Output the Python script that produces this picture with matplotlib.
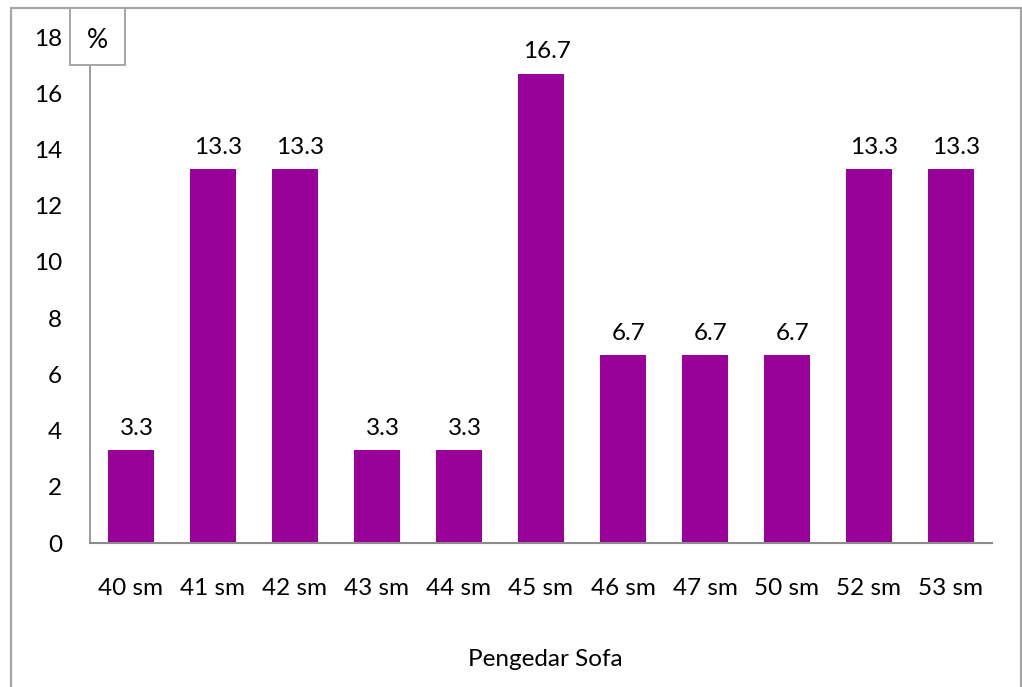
import matplotlib.pyplot as plt
from matplotlib.patches import Rectangle

plt.rcParams["font.family"] = ["Lato", "DejaVu Sans"]

categories = ["40 sm", "41 sm", "42 sm", "43 sm", "44 sm", "45 sm",
              "46 sm", "47 sm", "50 sm", "52 sm", "53 sm"]
percent = [3.3, 13.3, 13.3, 3.3, 3.3, 16.7, 6.7, 6.7, 6.7, 13.3, 13.3]
y_ticks = [0, 2, 4, 6, 8, 10, 12, 14, 16, 18]

W, H = 1022, 687
BAR_COLOR = "#990099"
GRAY = "#a6a6a6"
FS = 17.5

fig = plt.figure(figsize=(W / 100, H / 100), dpi=100)
ax = fig.add_axes([90 / W, 1 - 543 / H, 902 / W, 506 / H])

x = range(len(categories))
ax.bar(x, percent, width=0.56, color=BAR_COLOR)
for xi, v in zip(x, percent):
    ax.annotate(f"{v}", (xi, v), xytext=(4, 8), textcoords="offset points",
                ha="center", va="bottom", fontsize=FS)

ax.set_xlim(-0.5, len(categories) - 0.5)
ax.set_ylim(0, 18)
ax.set_yticks(y_ticks)
ax.set_xticks(list(x))
ax.set_xticklabels(categories)
ax.tick_params(axis="y", length=0, pad=20, labelsize=FS)
ax.tick_params(axis="x", length=0, pad=25, labelsize=FS)

for side in ["top", "right"]:
    ax.spines[side].set_visible(False)
ax.spines["left"].set_color("#8c8c8c")
ax.spines["left"].set_linewidth(1.2)
ax.spines["bottom"].set_color("#8c8c8c")
ax.spines["bottom"].set_linewidth(1.5)

fig.text(545 / W, 1 - 660 / H, "Pengedar Sofa", ha="center", va="center", fontsize=FS)

# outer frame
fig.patches.append(Rectangle((11 / W, -0.05), 1010 / W, 1.05 - 8 / H,
                             transform=fig.transFigure, fill=False,
                             edgecolor=GRAY, linewidth=1.6, zorder=5))
# "%" box
fig.patches.append(Rectangle((70 / W, 1 - 65 / H), 55 / W, 57 / H,
                             transform=fig.transFigure, facecolor="white",
                             edgecolor=GRAY, linewidth=1.4, zorder=6))
fig.text(97 / W, 1 - 40 / H, "%", ha="center", va="center", fontsize=19, zorder=7)

fig.savefig("out.png", dpi=100)
